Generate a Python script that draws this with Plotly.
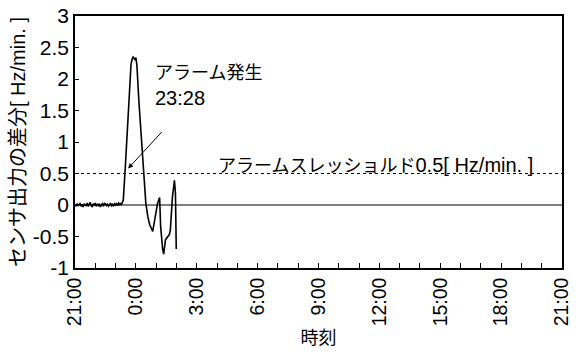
import plotly.graph_objects as go

# Hours elapsed since 21:00 and the sensor output difference [Hz/min.]
hours = [0.00, 0.05, 0.10, 0.15, 0.20, 0.25, 0.30, 0.35, 0.40, 0.45,
         0.50, 0.55, 0.60, 0.65, 0.70, 0.75, 0.80, 0.85, 0.90, 0.95,
         1.00, 1.05, 1.10, 1.15, 1.20, 1.25, 1.30, 1.35, 1.40, 1.45,
         1.50, 1.55, 1.60, 1.65, 1.70, 1.75, 1.80, 1.85, 1.90, 1.95,
         2.00, 2.05, 2.10, 2.15, 2.20, 2.25, 2.28, 2.38, 2.47, 2.52,
         2.62, 2.76, 2.81, 2.86, 2.91, 2.96, 3.00, 3.05, 3.15, 3.25,
         3.35, 3.44, 3.49, 3.59, 3.68, 3.83, 3.98, 4.07, 4.17, 4.22,
         4.32, 4.37, 4.46, 4.65, 4.70, 4.80, 4.90, 4.95, 4.99]
diff = [0.01, -0.02, 0.02, -0.01, 0.00, 0.03, -0.02, 0.01, -0.03, 0.02,
        0.00, -0.01, 0.03, -0.02, 0.01, 0.04, -0.01, -0.03, 0.02, 0.00,
        0.03, -0.02, 0.01, -0.01, 0.02, -0.03, 0.00, 0.02, -0.02, 0.03,
        0.01, -0.01, 0.02, -0.02, 0.00, 0.03, -0.01, 0.01, -0.02, 0.02,
        0.00, 0.02, -0.01, 0.03, 0.01, 0.02, 0.00, 0.08, 0.55, 0.86,
        1.59, 2.23, 2.31, 2.35, 2.33, 2.30, 2.34, 2.22, 1.64, 1.17,
        0.86, 0.34, 0.03, -0.19, -0.31, -0.42, -0.16, 0.03, 0.12, -0.34,
        -0.70, -0.78, -0.55, -0.47, -0.39, 0.12, 0.39, 0.19, -0.70]

threshold = 0.5
tick_hours = [0, 3, 6, 9, 12, 15, 18, 21, 24]
tick_text = ["21:00", "0:00", "3:00", "6:00", "9:00", "12:00", "15:00", "18:00", "21:00"]
y_ticks = [-1, -0.5, 0, 0.5, 1, 1.5, 2, 2.5, 3]
y_text = ["-1", "-0.5", "0", "0.5", "1", "1.5", "2", "2.5", "3"]

FONT = "Liberation Sans, Arial, Noto Sans CJK JP, sans-serif"


def jp(text, size):
    return f'<span style="font-size:{size}px">{text}</span>'


fig = go.Figure()
fig.add_trace(go.Scatter(x=hours, y=diff, mode="lines",
                         line=dict(color="black", width=1.6), showlegend=False))

# zero reference line and alarm threshold
fig.add_shape(type="line", xref="x", yref="y", x0=0, x1=24, y0=0, y1=0,
              line=dict(color="black", width=1))
fig.add_shape(type="line", xref="x", yref="y", x0=0, x1=24, y0=threshold, y1=threshold,
              line=dict(color="black", width=1.2, dash="dot"))

fig.add_annotation(x=14.8, y=threshold, xref="x", yref="y", yanchor="bottom",
                   text=jp("アラームスレッショルド", 18) + "0.5[ Hz/min. ]",
                   showarrow=False,
                   font=dict(size=20, color="black", family=FONT), yshift=-4)

# alarm marker
fig.add_annotation(x=2.62, y=0.58, xref="x", yref="y", text="", showarrow=True,
                   ax=35, ay=-38, arrowhead=2, arrowsize=1, arrowwidth=1,
                   arrowcolor="black")
fig.add_annotation(x=3.83, y=2.29, xref="x", yref="y", xanchor="left", yanchor="top",
                   align="left", text=jp("アラーム発生", 18) + "<br>23:28",
                   showarrow=False,
                   font=dict(size=20, color="black", family=FONT))

fig.update_xaxes(range=[0, 24], tickvals=tick_hours, ticktext=tick_text,
                 tickangle=-90, ticks="inside", ticklen=5, tickcolor="black",
                 minor=dict(dtick=1, ticks="inside", ticklen=5, tickcolor="black"),
                 showgrid=False, zeroline=False, showline=True, linecolor="black",
                 linewidth=1.5, mirror=True, ticklabeloverflow="allow",
                 tickfont=dict(size=19.5, color="black", family=FONT),
                 title=dict(text="時刻", font=dict(size=18, color="black", family=FONT),
                            standoff=6))
fig.update_yaxes(range=[-1, 3], tickvals=y_ticks, ticktext=y_text,
                 ticks="inside", ticklen=4, tickcolor="black",
                 showgrid=False, zeroline=False, showline=True, linecolor="black",
                 linewidth=1.5, mirror=True,
                 tickfont=dict(size=21, color="black", family=FONT),
                 title=dict(text=jp("センサ出力の差分", 20) + "[ Hz/min. ]",
                            font=dict(size=20, color="black", family=FONT),
                            standoff=2))

fig.update_layout(width=576, height=360, plot_bgcolor="white", paper_bgcolor="white",
                  margin=dict(l=75, r=4, t=13, b=92),
                  font=dict(family=FONT, color="black"))

fig.write_html("out.html")
